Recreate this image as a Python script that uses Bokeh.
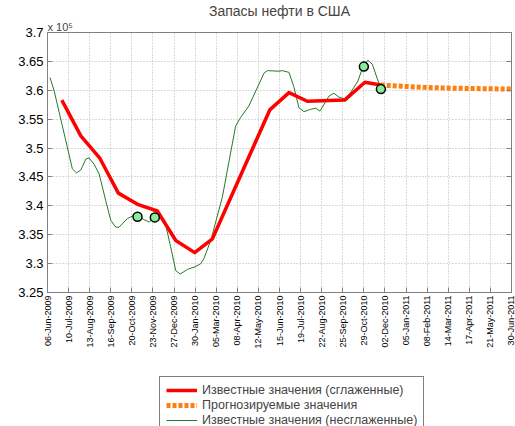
import numpy as np
from bokeh.plotting import figure
from bokeh.layouts import column
from bokeh.models import (FixedTicker, LinearAxis, Legend, LegendItem, Title,
                          Range1d, CustomJSTickFormatter)
from bokeh.embed import file_html
from bokeh.resources import INLINE

TITLE = "Запасы нефти в США"
SCALE_LABEL = "x 10\u2075"
X_TICK_LABELS = ["06-Jun-2009", "10-Jul-2009", "13-Aug-2009", "16-Sep-2009",
                 "20-Oct-2009", "23-Nov-2009", "27-Dec-2009", "30-Jan-2010",
                 "05-Mar-2010", "08-Apr-2010", "12-May-2010", "15-Jun-2010",
                 "19-Jul-2010", "22-Aug-2010", "25-Sep-2010", "29-Oct-2010",
                 "02-Dec-2010", "05-Jan-2011", "08-Feb-2011", "14-Mar-2011",
                 "17-Apr-2011", "21-May-2011", "30-Jun-2011"]
SPAN_DAYS = 754  # 06-Jun-2009 .. 30-Jun-2011
Y_TICKS = [3.25, 3.3, 3.35, 3.4, 3.45, 3.5, 3.55, 3.6, 3.65, 3.7]
Y_TICK_LABELS = ["3.25", "3.3", "3.35", "3.4", "3.45", "3.5", "3.55", "3.6", "3.65", "3.7"]

LEGEND_LABELS = ["Известные значения (сглаженные)",
                 "Прогнозируемые значения",
                 "Известные значения (несглаженные)"]

# values in units of 10^5, x = days since 06-Jun-2009
smooth_days = [23.3, 54.1, 85.3, 115.1, 147.7, 178.5, 208.4, 239.2, 268.0,
               361.2, 392.4, 422.2, 482.9, 515.8, 541.5]
smooth_vals = [3.583, 3.521, 3.482, 3.422, 3.402, 3.391, 3.340, 3.319, 3.343,
               3.566, 3.596, 3.581, 3.583, 3.614, 3.609]

raw_days = [4.1, 10.6, 40.4, 47.0, 54.1, 62.4, 67.5, 75.7, 84.0, 94.6, 102.8,
            111.0, 116.2, 129.9, 143.3, 157.0, 165.2, 174.4, 181.3, 192.3,
            200.1, 208.4, 215.6, 227.6, 240.9, 249.1, 254.3, 265.3, 284.1,
            305.7, 313.9, 327.3, 352.0, 357.4, 376.3, 381.8, 392.4, 400.6,
            408.5, 416.7, 427.4, 435.9, 442.8, 457.5, 465.4, 473.6, 482.9,
            492.5, 504.5, 511.7, 520.6, 527.8, 541.5]
raw_vals = [3.622, 3.600, 3.464, 3.457, 3.462, 3.481, 3.483, 3.472, 3.455,
            3.409, 3.375, 3.363, 3.363, 3.378, 3.385, 3.376, 3.372, 3.380,
            3.385, 3.366, 3.329, 3.288, 3.282, 3.290, 3.295, 3.300, 3.309,
            3.340, 3.415, 3.538, 3.553, 3.573, 3.630, 3.634, 3.633, 3.634,
            3.631, 3.605, 3.570, 3.563, 3.567, 3.569, 3.564, 3.590, 3.595,
            3.588, 3.585, 3.596, 3.616, 3.638, 3.652, 3.645, 3.603]

forecast_days = [541.5, 582.6, 616.9, 651.1, 685.4, 719.7, 754.0]
forecast_vals = [3.609, 3.6066, 3.6048, 3.6038, 3.6031, 3.6026, 3.6021]

marker_days = [146.3, 174.4, 514.1, 541.8]
marker_vals = [3.381, 3.380, 3.641, 3.602]

FONT = "Liberation Sans"
AX_COLOR = "#808080"
GRID_COLOR = "#b4b4b4"
RAW_COLOR = "#257a25"
FC_COLOR = "#ff7f0e"
SM_COLOR = "#ff0000"

x_ticks = [k * SPAN_DAYS / (len(X_TICK_LABELS) - 1) for k in range(len(X_TICK_LABELS))]

p = figure(width=515, height=370, output_backend="svg", toolbar_location=None,
           x_range=Range1d(0, SPAN_DAYS), y_range=Range1d(Y_TICKS[0], Y_TICKS[-1]),
           min_border_left=47, min_border_right=4, min_border_top=31,
           min_border_bottom=78, background_fill_color="white",
           border_fill_color="white", outline_line_color=AX_COLOR)

p.title.text = TITLE
p.title.align = "center"
p.title.text_font = FONT
p.title.text_font_size = "14px"
p.title.text_font_style = "normal"
p.title.standoff = 0

p.add_layout(Title(text=SCALE_LABEL, align="left", text_font=FONT,
                   text_font_size="11px", text_font_style="normal", standoff=0), "above")

xfmt = CustomJSTickFormatter(args=dict(labels=X_TICK_LABELS, span=SPAN_DAYS),
                             code="return labels[Math.round(tick*(labels.length-1)/span)];")
yfmt = CustomJSTickFormatter(args=dict(labels=Y_TICK_LABELS, y0=Y_TICKS[0]),
                             code="return labels[Math.round((tick-y0)/0.05)];")
blank = CustomJSTickFormatter(code="return '';")

xax = p.xaxis[0]
xax.ticker = FixedTicker(ticks=x_ticks)
xax.formatter = xfmt
xax.major_label_orientation = np.pi / 2
xax.major_label_text_font = FONT
xax.major_label_text_font_size = "9px"
xax.major_label_standoff = 3

yax = p.yaxis[0]
yax.ticker = FixedTicker(ticks=Y_TICKS)
yax.formatter = yfmt
yax.major_label_text_font = FONT
yax.major_label_text_font_size = "13px"
yax.major_label_standoff = 4

for ax in (xax, yax):
    ax.axis_line_color = AX_COLOR
    ax.major_tick_line_color = AX_COLOR
    ax.major_tick_in = 5
    ax.major_tick_out = 0
    ax.minor_tick_line_color = None
    ax.major_label_text_color = "black"

right = LinearAxis(ticker=FixedTicker(ticks=Y_TICKS), formatter=blank,
                   major_label_standoff=0, major_tick_in=5, major_tick_out=0,
                   minor_tick_line_color=None, axis_line_color=AX_COLOR,
                   major_tick_line_color=AX_COLOR)
p.add_layout(right, "right")

for g in (p.xgrid[0], p.ygrid[0]):
    g.grid_line_color = GRID_COLOR
    g.grid_line_dash = "1 2"
    g.grid_line_width = 1

p.line(raw_days, raw_vals, line_color=RAW_COLOR, line_width=1)
p.line(forecast_days, forecast_vals, line_color=FC_COLOR, line_width=5,
       line_dash="4 2", line_cap="butt")
p.line(smooth_days, smooth_vals, line_color=SM_COLOR, line_width=3.5,
       line_join="round")
p.scatter(marker_days, marker_vals, size=9, fill_color="#88ee99",
          line_color="black", line_width=1.5)

# legend panel below the chart (cut at the bottom like the reference)
lg = figure(width=515, height=56, output_backend="svg", toolbar_location=None,
            x_range=Range1d(0, 1), y_range=Range1d(0, 1), x_axis_type=None,
            y_axis_type=None, min_border=0, outline_line_color=None,
            background_fill_color="white", border_fill_color="white")
lg.xgrid.visible = False
lg.ygrid.visible = False
nan2 = [np.nan, np.nan]
k_sm = lg.line(nan2, nan2, line_color=SM_COLOR, line_width=3.5)
k_fc = lg.line(nan2, nan2, line_color=FC_COLOR, line_width=5, line_dash="4 2",
               line_cap="butt")
k_raw = lg.line(nan2, nan2, line_color=RAW_COLOR, line_width=1)

legend = Legend(items=[LegendItem(label=LEGEND_LABELS[0], renderers=[k_sm]),
                       LegendItem(label=LEGEND_LABELS[1], renderers=[k_fc]),
                       LegendItem(label=LEGEND_LABELS[2], renderers=[k_raw])],
                location=(112, -8), margin=0, padding=6, spacing=1,
                glyph_width=31, glyph_height=12, label_height=12, label_standoff=5,
                label_text_font=FONT, label_text_font_size="12.5px",
                border_line_color="black", background_fill_color="white",
                background_fill_alpha=1.0)
lg.add_layout(legend)

layout = column(p, lg, spacing=0)
open("out.html", "w").write(file_html(layout, INLINE))
